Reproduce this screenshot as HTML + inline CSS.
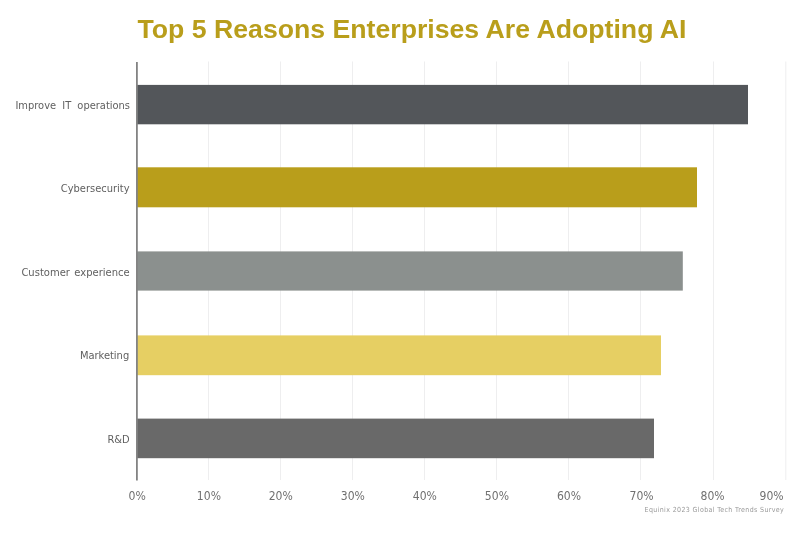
<!DOCTYPE html>
<html><head><meta charset="utf-8">
<style>
html,body{margin:0;padding:0;background:#fff;}
body{width:800px;height:533px;overflow:hidden;position:relative;font-family:"DejaVu Sans Condensed","DejaVu Sans","Liberation Sans",sans-serif;}
svg{position:absolute;left:0;top:0;display:block}
</style></head><body>
<svg width="800" height="533" viewBox="0 0 800 533">
<rect width="800" height="533" fill="#ffffff"/>
<g fill="#eeeeef">
<rect x="208" y="61.5" width="1" height="418.5"/>
<rect x="280" y="61.5" width="1" height="418.5"/>
<rect x="352" y="61.5" width="1" height="418.5"/>
<rect x="424" y="61.5" width="1" height="418.5"/>
<rect x="496" y="61.5" width="1" height="418.5"/>
<rect x="568" y="61.5" width="1" height="418.5"/>
<rect x="640" y="61.5" width="1" height="418.5"/>
<rect x="713" y="61.5" width="1" height="418.5"/>
<rect x="785.3" y="61.5" width="1" height="418.5"/>
</g>
<rect x="137" y="84.9" width="611" height="39.4" fill="#53565a"/>
<rect x="137" y="167.3" width="560" height="40" fill="#b99e1b"/>
<rect x="137" y="251.4" width="545.8" height="39.2" fill="#8b908e"/>
<rect x="137" y="335.4" width="524" height="39.8" fill="#e6cf63"/>
<rect x="137" y="418.6" width="517" height="39.6" fill="#696969"/>
<rect x="136" y="62" width="1.8" height="418.5" fill="#838383"/>
<text x="412" y="37.5" text-anchor="middle" font-family="'Liberation Sans',sans-serif" font-weight="bold" font-size="26.67" fill="#b99e1b">Top 5 Reasons Enterprises Are Adopting AI</text>
<g font-family="'DejaVu Sans Condensed','DejaVu Sans','Liberation Sans',sans-serif" font-size="11" fill="#606060" text-anchor="end">
<text x="130" y="108.5" word-spacing="3">Improve IT operations</text>
<text x="129.5" y="192">Cybersecurity</text>
<text x="129.7" y="275.6" word-spacing="1.2" textLength="108.3" lengthAdjust="spacingAndGlyphs">Customer experience</text>
<text x="129.2" y="359.3">Marketing</text>
<text x="129.7" y="443">R&amp;D</text>
</g>
<g font-family="'DejaVu Sans Condensed','DejaVu Sans','Liberation Sans',sans-serif" font-size="11.5" fill="#707070" text-anchor="middle">
<text x="137.2" y="500" textLength="17.3" lengthAdjust="spacingAndGlyphs">0%</text>
<text x="208.9" y="500" textLength="24.1" lengthAdjust="spacingAndGlyphs">10%</text>
<text x="280.7" y="500" textLength="24.1" lengthAdjust="spacingAndGlyphs">20%</text>
<text x="352.8" y="500" textLength="24.1" lengthAdjust="spacingAndGlyphs">30%</text>
<text x="424.8" y="500" textLength="24.1" lengthAdjust="spacingAndGlyphs">40%</text>
<text x="496.9" y="500" textLength="24.1" lengthAdjust="spacingAndGlyphs">50%</text>
<text x="569" y="500" textLength="24.1" lengthAdjust="spacingAndGlyphs">60%</text>
<text x="641.6" y="500" textLength="24.1" lengthAdjust="spacingAndGlyphs">70%</text>
<text x="712.6" y="500" textLength="24.1" lengthAdjust="spacingAndGlyphs">80%</text>
<text x="771.6" y="500" textLength="24.1" lengthAdjust="spacingAndGlyphs">90%</text>
</g>
<text x="784.2" y="512" text-anchor="end" font-family="'DejaVu Sans Condensed','DejaVu Sans','Liberation Sans',sans-serif" font-size="7" letter-spacing="0.37" fill="#999999">Equinix 2023 Global Tech Trends Survey</text>
</svg>
</body></html>
